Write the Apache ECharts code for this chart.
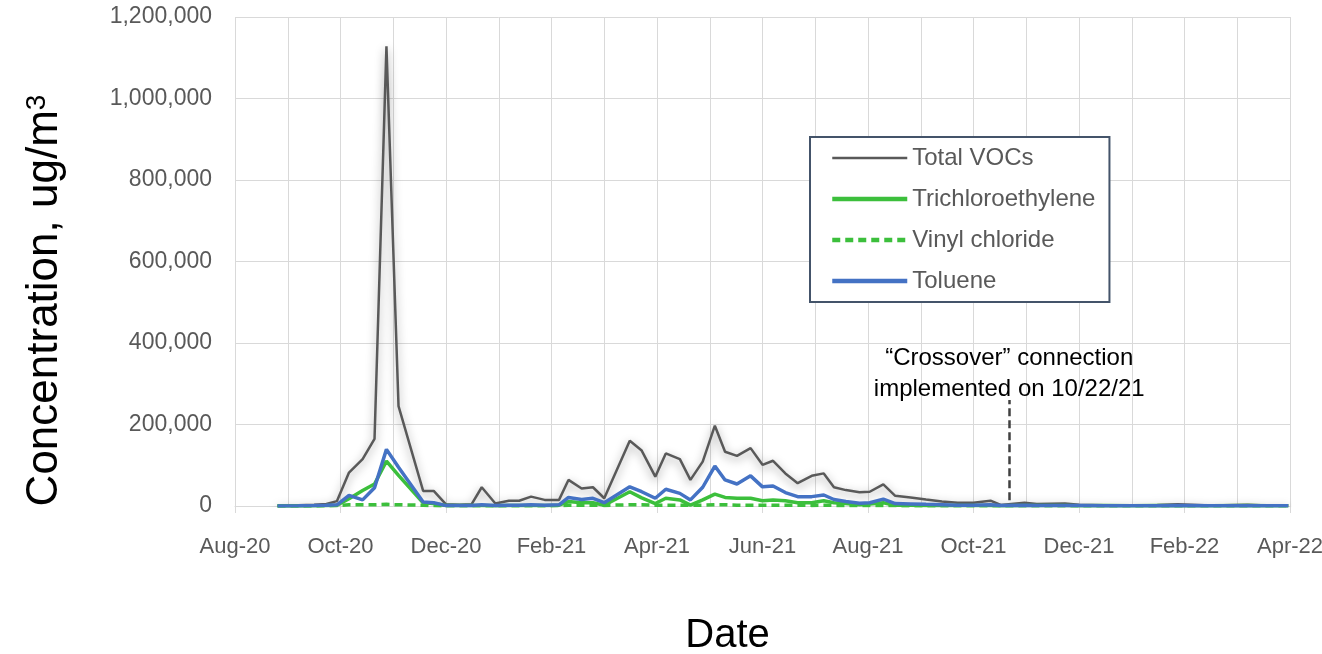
<!DOCTYPE html>
<html><head><meta charset="utf-8">
<script src="https://cdn.jsdelivr.net/npm/echarts@6/dist/echarts.min.js"></script>
<style>html,body{margin:0;padding:0;background:#fff}#c{width:1322px;height:654px}</style>
</head><body><div id="c"></div>
<script>
const dates = ['2020-08-26','2020-09-07','2020-09-16','2020-09-23','2020-09-29','2020-10-06','2020-10-14','2020-10-21','2020-10-28','2020-11-04',
'2020-11-18','2020-11-24','2020-12-01','2020-12-09','2020-12-16','2020-12-22','2020-12-30','2021-01-07','2021-01-13','2021-01-20',
'2021-01-28','2021-02-05','2021-02-10','2021-02-17','2021-02-23','2021-03-01','2021-03-16','2021-03-23','2021-03-31','2021-04-06',
'2021-04-14','2021-04-20','2021-04-27','2021-05-04','2021-05-10','2021-05-17','2021-05-25','2021-06-01','2021-06-07','2021-06-14',
'2021-06-21','2021-06-29','2021-07-06','2021-07-12','2021-07-19','2021-07-27','2021-08-02','2021-08-10','2021-08-17','2021-08-26',
'2021-09-04','2021-09-13','2021-09-22','2021-10-01','2021-10-11','2021-10-17','2021-10-31','2021-11-07','2021-11-23','2021-12-01',
'2021-12-16','2022-01-01','2022-01-16','2022-01-28','2022-02-15','2022-03-07','2022-03-19','2022-03-31'];
const totalVOCs = [500,2000,3000,5000,12000,82000,115000,165000,1128000,245000,
37000,37000,4000,3000,4000,46000,6000,13000,13000,23000,
15000,15000,64000,43000,46000,19000,160000,136000,72000,129000,
115000,64000,109000,197000,133000,123000,142000,101000,111000,80000,
56000,74000,80000,46000,39000,34000,35000,53000,25000,21000,
16000,11000,8000,8000,13000,2500,8000,5000,6000,3000,
2000,2000,2500,4000,1500,3000,1000,1000];
const trichloroethylene = [0,0,500,1000,2000,18000,38000,54000,110000,75000,
8000,6000,1000,1000,1000,1000,500,1000,1000,1500,
1000,2000,11000,8000,8000,2000,35000,20000,6000,19000,
15000,2000,15000,29000,21000,19000,19000,13000,15000,13000,
8000,8000,13000,8000,6000,3000,5000,8000,2000,2000,
1500,1000,1000,1000,1500,500,1000,1000,1500,500,
1000,500,1000,500,500,1000,500,500];
const vinylChloride = [0,0,0,500,1000,3000,3000,3000,4000,3000,
2000,1000,500,500,500,500,500,500,500,500,
500,1000,2000,2000,2000,1500,3000,3000,2000,2000,
2000,1500,2000,3000,3000,2000,2000,2000,2000,2000,
2000,1500,2000,1500,1500,1000,1000,1500,1000,500,
500,500,500,500,500,500,500,500,500,500,
500,500,500,500,500,500,500,500];
const toluene = [0,500,1000,2000,3000,26000,15000,45000,139000,95000,
10000,8000,1000,1000,1000,3000,1000,2000,2000,3000,
2000,3000,21000,16000,19000,8000,47000,35000,19000,41000,
31000,15000,46000,98000,64000,54000,74000,47000,49000,33000,
23000,23000,27000,16000,11000,7000,8000,17000,6000,5000,
4000,3000,2000,2000,3000,1000,2000,1500,1000,1000,
500,500,500,1000,500,500,500,500];
const xTickLabels = ['Aug-20','Oct-20','Dec-20','Feb-21','Apr-21','Jun-21','Aug-21','Oct-21','Dec-21','Feb-22','Apr-22'];
const yTickLabels = ['0','200,000','400,000','600,000','800,000','1,000,000','1,200,000'];
const crossoverDate = '2021-10-22';
const crossoverText = '\u201CCrossover\u201D connection\nimplemented on 10/22/21';

function monthIndex(s){
  const p = s.split('-').map(Number);
  const dim = new Date(p[0], p[1], 0).getDate();
  return (p[0]-2020)*12 + (p[1]-8) + (p[2]-1)/dim;
}
const xs = dates.map(monthIndex);
const pair = arr => arr.map((v,i)=>[xs[i], v]);
const crossX = monthIndex(crossoverDate);
const fnt = "'Liberation Sans', Arial, sans-serif";
const gridC = '#d9d9d9';

const chart = echarts.init(document.getElementById('c'), null, {renderer:'canvas'});
chart.setOption({
  animation:false,
  backgroundColor:'#fff',
  grid:{left:235,right:32,top:17,bottom:148,containLabel:false,outerBoundsMode:'none'},
  xAxis:{type:'value',min:0,max:20,interval:2,
    name:'Date',nameLocation:'middle',nameGap:110,
    nameTextStyle:{fontSize:40,color:'#000',fontFamily:fnt,padding:[0,70,0,0]},
    axisLine:{show:true,onZero:false,lineStyle:{color:gridC,width:1}},
    axisTick:{show:true,length:7,lineStyle:{color:gridC}},
    axisLabel:{formatter:v=>xTickLabels[Math.round(v/2)]||'',fontSize:22,color:'#595959',fontFamily:fnt,margin:30,hideOverlap:false},
    splitLine:{show:true,lineStyle:{color:gridC,width:1}},
    minorTick:{show:false,splitNumber:2},
    minorSplitLine:{show:true,lineStyle:{color:gridC,width:1}}
  },
  yAxis:{type:'value',min:0,max:1200000,interval:200000,
    name:'Concentration, ug/m{sup|3}',nameLocation:'middle',nameRotate:90,nameGap:168,
    nameTextStyle:{fontSize:44,color:'#000',fontFamily:fnt,padding:[0,78,0,0],
      rich:{sup:{fontSize:28,color:'#000',fontFamily:fnt,verticalAlign:'top',lineHeight:44}}},
    axisLine:{show:false},axisTick:{show:false},
    axisLabel:{formatter:v=>yTickLabels[Math.round(v/200000)],fontSize:23,color:'#595959',fontFamily:fnt,margin:23},
    splitLine:{show:true,lineStyle:{color:gridC,width:1}}
  },
  legend:{orient:'vertical',left:810,top:137,padding:[9,14,9,20],itemWidth:75,itemHeight:24,itemGap:17,
    borderColor:'#44546a',borderWidth:2,backgroundColor:'#fff',
    textStyle:{fontSize:24,color:'#595959',fontFamily:fnt,lineHeight:24},
    itemStyle:{opacity:0},
    lineStyle:{shadowBlur:0,shadowOffsetY:0,shadowColor:'transparent'},
    data:[
      {name:'Total VOCs',lineStyle:{width:2.5}},
      {name:'Trichloroethylene',lineStyle:{width:4.5}},
      {name:'Vinyl chloride',lineStyle:{width:4.5}},
      {name:'Toluene',lineStyle:{width:4.5}}
    ]},
  series:[
    {name:'Total VOCs',type:'line',data:pair(totalVOCs),symbol:'none',z:2,
      lineStyle:{color:'#595959',width:2.5,shadowColor:'rgba(0,0,0,0.4)',shadowBlur:10,shadowOffsetY:3},
      itemStyle:{color:'#595959'},
      markLine:{silent:true,symbol:'none',animation:false,
        lineStyle:{type:[8,4],color:'#404040',width:2.5},
        label:{show:true,position:'end',formatter:crossoverText,fontSize:24,color:'#000',fontFamily:fnt,lineHeight:31,distance:-5},
        data:[[{coord:[crossX,14000]},{coord:[crossX,260000]}]]}},
    {name:'Trichloroethylene',type:'line',data:pair(trichloroethylene),symbol:'none',z:3,
      lineStyle:{color:'#3cbf3c',width:3.5},itemStyle:{color:'#3cbf3c'}},
    {name:'Vinyl chloride',type:'line',data:pair(vinylChloride),symbol:'none',z:4,
      lineStyle:{color:'#3cbf3c',width:3.5,type:[8,5]},itemStyle:{color:'#3cbf3c'}},
    {name:'Toluene',type:'line',data:pair(toluene),symbol:'none',z:5,
      lineStyle:{color:'#4472c4',width:3.5},itemStyle:{color:'#4472c4'}}
  ]
});
</script></body></html>
